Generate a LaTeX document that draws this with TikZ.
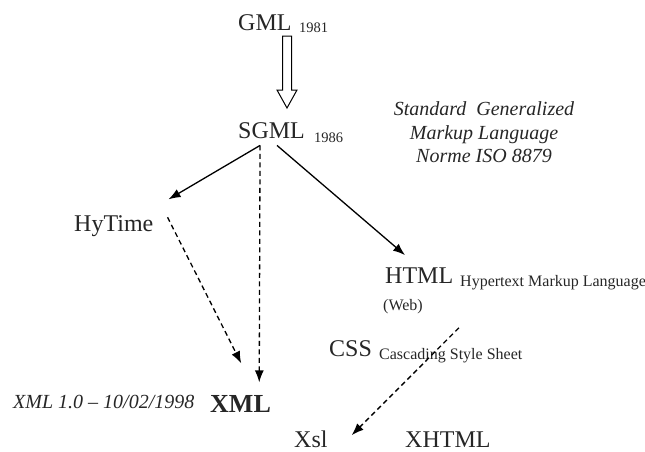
\documentclass[tikz,border=0pt]{standalone}
\usepackage{fontspec}
\setmainfont{Liberation Serif}
\usetikzlibrary{arrows.meta}
\newcommand{\fsz}[1]{\fontsize{#1}{#1}\selectfont}
\begin{document}
\begin{tikzpicture}[x=1pt,y=-1pt]
    \tikzstyle{lang}=[inner sep=0pt, anchor=base west, text=black!85, font=\fsz{24}]
    \tikzstyle{subtxt}=[inner sep=0pt, anchor=base west, text=black!85, font=\fsz{16}]
    \tikzstyle{year}=[inner sep=0pt, anchor=base west, text=black!85, font=\fsz{14.5}]
    \tikzstyle{note}=[inner sep=0pt, text=black!85, font=\fsz{20}\itshape]
    \tikzstyle{derive}=[line width=1.3pt, -{Latex[length=12pt,width=9pt]}]
    \tikzstyle{influence}=[derive, dash pattern=on 5pt off 3.5pt]
    \useasboundingbox (0,0) rectangle (645,451);
    % languages
    \node[lang] (gml) at (238,30) {GML};
    \node[year] (gmly) at (299,32) {1981};
    \node[lang] (sgml) at (238,138) {SGML};
    \node[year] (sgmly) at (314,142) {1986};
    \node[note, anchor=north, align=center] (sgmlnote) at (484,101)
        {Standard\ \ Generalized\\[4pt]Markup Language\\[3pt]Norme ISO 8879};
    \node[lang] (hytime) at (74,231) {HyTime};
    \node[lang] (html) at (385,283) {HTML};
    \node[subtxt] (htmlsub) at (460,286) {Hypertext Markup Language};
    \node[subtxt] (web) at (383,310) {(Web)};
    \node[lang] (css) at (329,356) {CSS};
    \node[subtxt] (csssub) at (379,359) {Cascading Style Sheet};
    \node[note, anchor=base west] (xmlnote) at (13,408) {XML 1.0 -- 10/02/1998};
    \node[lang, font=\fsz{26}\bfseries] (xml) at (210,412) {XML};
    \node[lang] (xsl) at (294,447) {Xsl};
    \node[lang] (xhtml) at (405,447) {XHTML};
    % hollow arrow GML -> SGML
    \draw[line width=1pt] (282.5,36) -- (291.5,36) -- (291.5,90) -- (297,90)
        -- (287,108) -- (277,90) -- (282.5,90) -- cycle;
    % connectors
    \draw[derive] ([xshift=-11.5pt,yshift=-7pt]sgml.south) -- ([xshift=15pt,yshift=15.6pt]hytime.north east);
    \draw[derive] ([xshift=5.5pt,yshift=-7pt]sgml.south) -- ([xshift=20pt,yshift=12pt]html.north west);
    \draw[influence] ([xshift=-11.5pt,yshift=-7pt]sgml.south) -- ([xshift=18.7pt,yshift=12.4pt]xml.north);
    \draw[influence] ([xshift=14pt,yshift=8.4pt]hytime.east) -- ([xshift=0.7pt,yshift=31.4pt]xml.north);
    \draw[influence] ([xshift=36pt,yshift=-14.2pt]web.south east) -- ([xshift=24pt,yshift=-5pt]xsl.north east);
\end{tikzpicture}
\end{document}
